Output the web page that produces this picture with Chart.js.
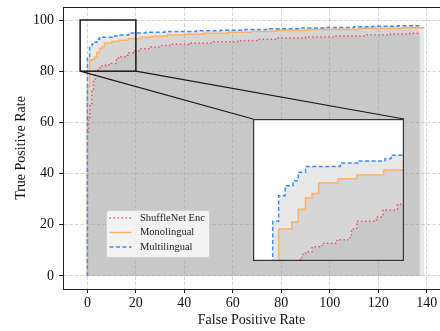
<!DOCTYPE html>
<html>
<head>
<meta charset="utf-8">
<script src="https://cdn.jsdelivr.net/npm/chart.js@4.4.0/dist/chart.umd.min.js"></script>
<style>
    html, body { margin: 0; padding: 0; background: #fff; }
    #wrap { position: relative; width: 440px; height: 331px; overflow: hidden; }
    canvas { display: block; }
    #inset { position: absolute; left: 253px; top: 119px; width: 151px; height: 142px; background: #fff; }
</style>
</head>
<body>
<div id="wrap">
    <canvas id="roc" width="440" height="331"></canvas>
    <div id="inset"><canvas id="zoom" width="151" height="142"></canvas></div>
</div>
<script>
// ROC points (FPR, TPR), step changes at each FPR
const shuffleFpr = [0, 0, 0.4, 1, 1.8, 2.5, 3.2, 4.2, 4.6, 5, 6, 7.5, 9.8, 11.8, 12, 12.8, 15.8, 16.8, 19, 22, 26, 30, 35, 42, 52, 62, 70, 78, 90, 102, 115, 125, 133, 137.5];
const shuffleTpr = [0, 55, 62, 67, 72.6, 76, 80, 80.5, 81, 81.3, 82, 82.5, 83, 83.4, 84.5, 85.6, 86.2, 87.2, 88, 88.8, 89.5, 90, 90.5, 91, 91.5, 92, 92.5, 93, 93.4, 93.8, 94.2, 94.5, 94.8, 94.8];

const monoFpr = [0, 0, 0.9, 2.9, 3.9, 5, 6, 7, 10, 12.8, 16.9, 22, 27, 33, 40, 48, 58, 68, 78, 92, 112, 130, 139];
const monoTpr = [0, 74, 84.5, 85.5, 87.3, 88.9, 89.5, 91, 91.6, 92.1, 92.8, 93.3, 93.7, 94.1, 94.4, 94.8, 95.2, 95.6, 96, 96.3, 96.8, 97, 97];

const multiFpr = [0, 0, 0.9, 1.9, 3.1, 3.9, 5, 10.3, 13, 17.1, 18, 24, 32, 45, 55, 65, 75, 88, 98, 110, 118, 128, 137];
const multiTpr = [0, 85.6, 89.2, 90.6, 91.3, 92.5, 93.3, 93.8, 94.1, 94.4, 94.9, 95.2, 95.5, 95.8, 96, 96.3, 96.6, 96.9, 97.1, 97.4, 97.6, 97.8, 97.8];

const xTicks = [0, 20, 40, 60, 80, 100, 120, 140];
const yTicks = [0, 20, 40, 60, 80, 100];

// zoomed region shown in the inset
const zoomX = [-3, 20];
const zoomY = [80, 100];

const FONT = 'Liberation Serif';
const TEXT = '#111';
const FILL = 'rgba(150, 150, 150, 0.22)';

Chart.defaults.font.family = FONT;

function toPoints(xs, ys) {
    return xs.map((x, i) => ({ x: x, y: ys[i] }));
}

function makeDatasets() {
    return [
        { label: 'ShuffleNet Enc', data: toPoints(shuffleFpr, shuffleTpr), borderColor: '#e5566e', borderDash: [1.5, 2.5], order: 3 },
        { label: 'Monolingual', data: toPoints(monoFpr, monoTpr), borderColor: '#ffb064', borderDash: [], order: 2 },
        { label: 'Multilingual', data: toPoints(multiFpr, multiTpr), borderColor: '#3d8ef0', borderDash: [4, 2.5], order: 1 }
    ].map(ds => Object.assign({
        borderWidth: 1.5,
        pointRadius: 0,
        stepped: 'before',
        fill: 'origin',
        backgroundColor: FILL
    }, ds));
}

const gridOpts = { color: 'rgba(176,176,176,0.7)', lineWidth: 0.8, tickColor: '#222', tickLength: 4, tickWidth: 1 };
const borderOpts = { color: '#222', width: 1, dash: [3.5, 2] };

// top spine (right one sits just off the canvas)
const frame = {
    id: 'frame',
    afterDatasetsDraw(chart) {
        const { ctx, chartArea } = chart;
        ctx.save();
        ctx.strokeStyle = '#222';
        ctx.lineWidth = 1;
        ctx.beginPath();
        ctx.moveTo(chartArea.left, chartArea.top + 0.5);
        ctx.lineTo(chartArea.right, chartArea.top + 0.5);
        ctx.stroke();
        ctx.restore();
    }
};

// zoom rectangle + connector lines to the inset corners
const zoomMarks = {
    id: 'zoomMarks',
    afterDatasetsDraw(chart) {
        const { ctx } = chart;
        const xs = chart.scales.x, ys = chart.scales.y;
        const x0 = xs.getPixelForValue(zoomX[0]), x1 = xs.getPixelForValue(zoomX[1]);
        const y0 = ys.getPixelForValue(zoomY[0]), y1 = ys.getPixelForValue(zoomY[1]);
        const inset = document.getElementById('inset');
        const il = inset.offsetLeft, it = inset.offsetTop, ir = il + inset.offsetWidth;
        ctx.save();
        ctx.strokeStyle = '#1a1a1a';
        ctx.lineWidth = 1.5;
        ctx.strokeRect(x0, y1, x1 - x0, y0 - y1);
        ctx.lineWidth = 1.2;
        ctx.beginPath();
        ctx.moveTo(x0, y0);
        ctx.lineTo(il, it);
        ctx.moveTo(x1, y0);
        ctx.lineTo(ir, it);
        ctx.stroke();
        ctx.restore();
    }
};

const legendBox = {
    id: 'legendBox',
    afterDraw(chart) {
        const { ctx, chartArea } = chart;
        const x = chartArea.left + 43.5, y = chartArea.bottom - 78.5, w = 103, h = 47;
        ctx.save();
        ctx.beginPath();
        ctx.roundRect(x, y, w, h, 2);
        ctx.fillStyle = 'rgba(255,255,255,0.8)';
        ctx.fill();
        ctx.strokeStyle = 'rgba(204,204,204,0.8)';
        ctx.lineWidth = 1;
        ctx.stroke();
        ctx.font = '10.5px "' + FONT + '"';
        ctx.textBaseline = 'middle';
        chart.data.datasets.forEach((ds, i) => {
            const cy = y + 7.5 + i * 14.5;
            ctx.beginPath();
            ctx.setLineDash(ds.borderDash);
            ctx.strokeStyle = ds.borderColor;
            ctx.lineWidth = ds.borderWidth;
            ctx.moveTo(x + 3, cy);
            ctx.lineTo(x + 25, cy);
            ctx.stroke();
            ctx.setLineDash([]);
            ctx.fillStyle = '#222';
            ctx.fillText(ds.label, x + 33.5, cy);
        });
        ctx.restore();
    }
};

const insetFrame = {
    id: 'insetFrame',
    afterDraw(chart) {
        const { ctx, width, height } = chart;
        ctx.save();
        ctx.strokeStyle = '#333';
        ctx.lineWidth = 1.2;
        ctx.strokeRect(0.6, 0.6, width - 1.2, height - 1.2);
        ctx.restore();
    }
};

new Chart(document.getElementById('roc'), {
    type: 'line',
    data: { datasets: makeDatasets() },
    options: {
        responsive: false,
        animation: false,
        layout: { padding: { left: 0, right: 0, top: 7, bottom: 0 } },
        plugins: {
            legend: { display: false },
            tooltip: { enabled: false },
            filler: { drawTime: 'beforeDatasetsDraw' }
        },
        scales: {
            x: {
                type: 'linear',
                min: -10.07,
                max: 145.5,
                afterBuildTicks: s => { s.ticks = xTicks.map(v => ({ value: v })); },
                afterFit: s => { s.height = 42; s.paddingLeft = 0; s.paddingRight = 0; },
                grid: gridOpts,
                border: borderOpts,
                ticks: { padding: 2, color: TEXT, font: { size: 14 }, autoSkip: false, maxRotation: 0 },
                title: { display: true, text: 'False Positive Rate', color: TEXT, font: { size: 14 }, padding: { top: 0, bottom: 2 } }
            },
            y: {
                type: 'linear',
                min: -5.08,
                max: 105.08,
                afterBuildTicks: s => { s.ticks = yTicks.map(v => ({ value: v })); },
                afterFit: s => { s.width = 63; s.paddingTop = 0; s.paddingBottom = 0; },
                grid: gridOpts,
                border: borderOpts,
                ticks: { padding: 5, color: TEXT, font: { size: 14 } },
                title: { display: true, text: 'True Positive Rate', color: TEXT, font: { size: 14 }, padding: { top: 12.5, bottom: 0 } }
            }
        }
    },
    plugins: [frame, zoomMarks, legendBox]
});

new Chart(document.getElementById('zoom'), {
    type: 'line',
    data: { datasets: makeDatasets() },
    options: {
        responsive: false,
        animation: false,
        layout: { padding: 0 },
        plugins: {
            legend: { display: false },
            tooltip: { enabled: false },
            filler: { drawTime: 'beforeDatasetsDraw' }
        },
        scales: {
            x: { type: 'linear', display: false, min: zoomX[0], max: zoomX[1] },
            y: { type: 'linear', display: false, min: zoomY[0], max: zoomY[1] }
        }
    },
    plugins: [insetFrame]
});
</script>
</body>
</html>
